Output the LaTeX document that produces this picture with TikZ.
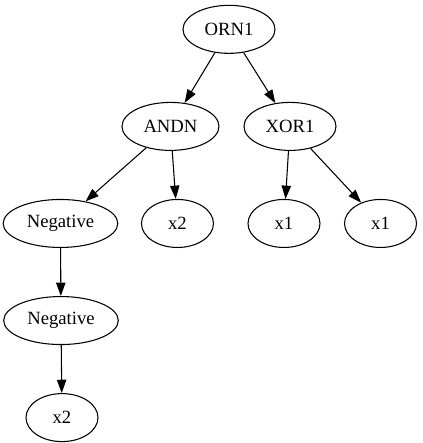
\documentclass[tikz,border=0pt]{standalone}
\usepackage{fontspec}
\setmainfont{Liberation Serif}
\usetikzlibrary{positioning,shapes.geometric,arrows.meta}

\tikzset{
  op/.style={draw, ellipse, line width=0.8pt, inner sep=0pt,
    minimum height=36pt, font=\fontsize{14}{16}\selectfont},
  edge/.style={draw, line width=0.8pt, -{Triangle[length=10pt,width=7pt]}},
}

\begin{document}
\begin{tikzpicture}[node distance=36pt]

    \useasboundingbox (-171.75pt,22pt) rectangle (144.75pt,-310.25pt);

    % Define nodes
    \node[op, minimum width=69pt]                              (orn)  {ORN1};
    \node[op, minimum width=72.75pt, below=of orn, xshift=-43.9pt] (andn) {ANDN};
    \node[op, minimum width=69pt, below=of orn, xshift=45.75pt]    (xor)  {XOR1};

    \node[op, minimum width=86pt, below=of andn, xshift=-82.5pt] (neg1) {Negative};
    \node[op, minimum width=54pt, below=of andn, xshift=5.25pt]  (xa)   {x2};
    \node[op, minimum width=54pt, below=of xor, xshift=-4.5pt]   (xb)   {x1};
    \node[op, minimum width=54pt, below=of xor, xshift=67.9pt]   (xc)   {x1};

    \node[op, minimum width=86pt, below=of neg1, xshift=0.4pt]   (neg2) {Negative};
    \node[op, minimum width=54pt, below=of neg2, xshift=0.75pt]  (xd)   {x2};

    % Connect the nodes
    \draw[edge] (orn) -- (andn);
    \draw[edge] (orn) -- (xor);
    \draw[edge] (andn) -- (neg1);
    \draw[edge] (andn) -- (xa);
    \draw[edge] (xor) -- (xb);
    \draw[edge] (xor) -- (xc);
    \draw[edge] (neg1) -- (neg2);
    \draw[edge] (neg2) -- (xd);

\end{tikzpicture}
\end{document}
